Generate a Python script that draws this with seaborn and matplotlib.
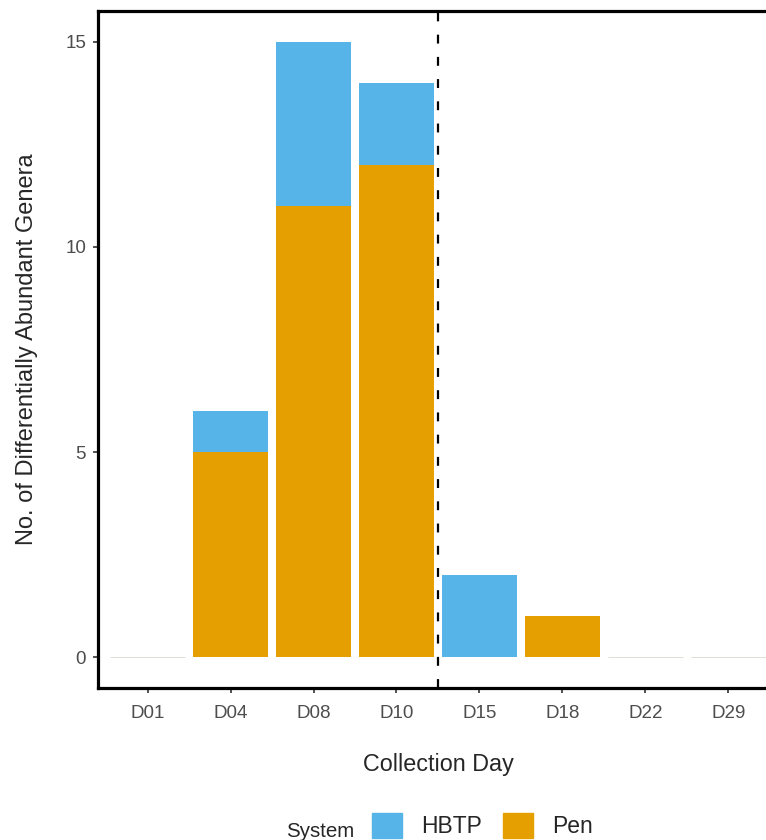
import numpy as np
import pandas as pd
import seaborn as sns
import matplotlib.pyplot as plt
from matplotlib.patches import Patch

sns.set_style('white')
plt.rcParams['font.family'] = ['Liberation Sans', 'DejaVu Sans']
plt.rcParams['xtick.bottom'] = True
plt.rcParams['ytick.left'] = True

# data
days = ['D01', 'D04', 'D08', 'D10', 'D15', 'D18', 'D22', 'D29']
pen = [0, 5, 11, 12, 0, 1, 0, 0]
hbtp = [0, 1, 4, 2, 2, 0, 0, 0]

col_hbtp = '#56B4E9'
col_pen = '#E69F00'

df = pd.DataFrame({'day': days, 'Pen': pen, 'HBTP': hbtp})
df['total'] = df['Pen'] + df['HBTP']

fig = plt.figure(figsize=(7.66, 8.4), dpi=100)
ax = fig.add_axes([0.1279, 0.181, 0.8877, 0.806])

# stacked: total in blue, Pen drawn over it
sns.barplot(data=df, x='day', y='total', color=col_hbtp, width=0.9,
            saturation=1, ax=ax, linewidth=0)
sns.barplot(data=df, x='day', y='Pen', color=col_pen, width=0.9,
            saturation=1, ax=ax, linewidth=0)

# empty days show up as a faint line at zero
for p in ax.patches[:len(days)]:
    if p.get_height() == 0:
        p.set_edgecolor('#d9d9cc')
        p.set_linewidth(0.6)

ax.axvline(3.5, color='black', lw=1.6, ls=(0, (4, 6)))

ax.set_xlim(-0.6, len(days) - 1 + 0.6)
ax.set_ylim(-0.75, 15.75)
ax.set_yticks([0, 5, 10, 15])

for s in ax.spines.values():
    s.set_linewidth(2.3)
    s.set_color('black')

ax.tick_params(axis='both', length=3.5, width=1.2, color='#333333',
               labelsize=13.5, labelcolor='#4D4D4D', pad=5)
ax.tick_params(axis='x', pad=9)

ax.set_xlabel('Collection Day', fontsize=16.8, labelpad=22)
ax.set_ylabel('No. of Differentially Abundant Genera', fontsize=17, labelpad=20)

handles = [Patch(color=col_hbtp, label='HBTP'), Patch(color=col_pen, label='Pen')]
fig.text(0.373, 0.0036, 'System', fontsize=14.8, ha='left', va='baseline')
fig.legend(handles=handles, ncol=2, frameon=False, fontsize=16.5,
           loc='upper left', bbox_to_anchor=(0.471, 0.046), borderpad=0,
           handlelength=1.3, handleheight=1.3, handletextpad=0.83,
           columnspacing=0.92)

fig.savefig('out.png', dpi=100)
